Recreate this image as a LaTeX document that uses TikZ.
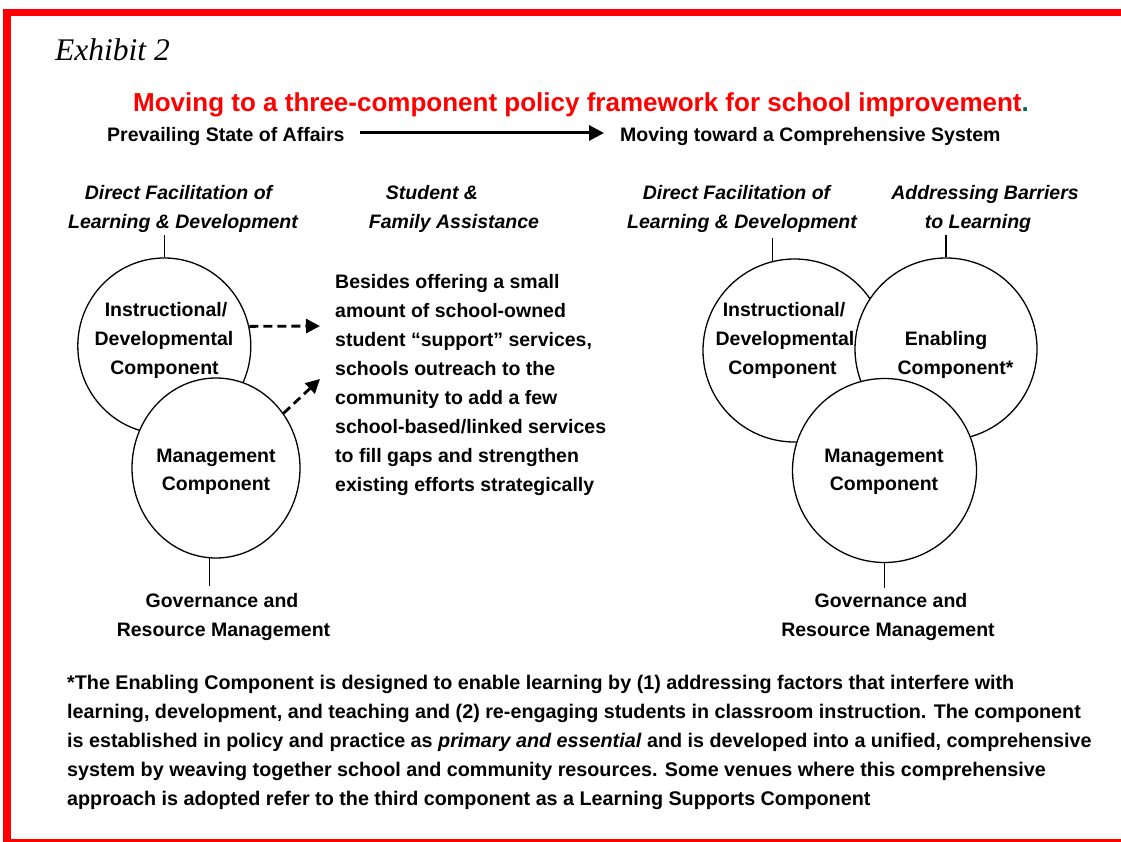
\documentclass[tikz,border=0pt]{standalone}
\usepackage{fontspec}
\setmainfont{Liberation Sans}
\newfontfamily\timesfont{Liberation Serif}
\usetikzlibrary{arrows.meta,shapes.geometric}
\definecolor{framered}{RGB}{255,0,0}
\definecolor{dotteal}{RGB}{0,102,102}
\begin{document}
\begin{tikzpicture}[x=1pt,y=-1pt,
  txt/.style={font=\fontsize{19.5}{29}\selectfont\bfseries, inner sep=0pt, anchor=base},
  txtl/.style={txt, anchor=base west},
  fnt/.style={font=\fontsize{19.75}{29}\selectfont\bfseries, inner sep=0pt, anchor=base west},
  hd/.style={font=\fontsize{19.5}{29}\selectfont\bfseries\itshape, inner sep=0pt, anchor=base},
  comp/.style={draw, line width=1.3pt, fill=white, ellipse, inner sep=0pt},
  tick/.style={line width=1.2pt},
  bigarrow/.style={line width=3pt, -{Triangle[length=15pt,width=15pt]}},
  dasharrow/.style={line width=2.8pt, dash pattern=on 9pt off 5pt, -{Triangle[length=14pt,width=14pt]}}
]
\useasboundingbox (0,0) rectangle (1121,842);
% frame
\draw[framered, line width=7.5pt] (7,12.5) rectangle (1135,843);

% heading texts
\node[font=\fontsize{31.5}{36}\selectfont\timesfont\itshape, inner sep=0pt, anchor=base west] (exhibit) at (55,61) {Exhibit 2};
\node[font=\fontsize{26}{30}\selectfont\bfseries, inner sep=0pt, anchor=base west, text=framered] (title) at (133,112) {Moving to a three-component policy framework for school improvement\textcolor{dotteal}{.}};
\node[txtl] (prev) at (107,142) {Prevailing State of Affairs};
\node[txtl] (move) at (620,142) {Moving toward a Comprehensive System};
\draw[bigarrow] ([xshift=15pt,yshift=4pt]prev.east) -- ([xshift=-16pt,yshift=4pt]move.west);

% left headings
\node[hd] (hdL1) at (178.5,200) {Direct Facilitation of};
\node[hd] (hdL2) at (183,229) {Learning \& Development};
\node[hd] (hdS1) at (432,200) {Student \&};
\node[hd] (hdS2) at (454,229) {Family Assistance};
% right headings
\node[hd] (hdR1) at (736.5,200) {Direct Facilitation of};
\node[hd] (hdR2) at (742,229) {Learning \& Development};
\node[hd] (hdB1) at (985,200) {Addressing Barriers};
\node[hd] (hdB2) at (978,229) {to Learning};

% left circles
\node[comp, minimum width=173pt, minimum height=176pt] (instL) at (164.3,346) {};
\node[comp, minimum width=168pt, minimum height=180pt] (mgmtL) at (216,468) {};
\node[txt] (instL1) at (166,316) {Instructional/};
\node[txt] (instL2) at (164,345) {Developmental};
\node[txt] (instL3) at (164.5,374) {Component};
\node[txt] (mgmtL1) at (216,462) {Management};
\node[txt] (mgmtL2) at (216,490) {Component};

% right circles
\node[comp, minimum size=183pt] (instR) at (794.5,350.5) {};
\node[comp, minimum size=182pt] (enab) at (946,349) {};
\node[comp, minimum size=184pt] (mgmtR) at (884.5,470.5) {};
\node[txt] (instR1) at (784,316) {Instructional/};
\node[txt] (instR2) at (785,345) {Developmental};
\node[txt] (instR3) at (782.5,374) {Component};
\node[txt] (enab1) at (946,345) {Enabling};
\node[txt] (enab2) at (955.5,374) {Component*};
\node[txt] (mgmtR1) at (884,462) {Management};
\node[txt] (mgmtR2) at (884,490) {Component};

% governance
\node[txt] (govL1) at (222,607) {Governance and};
\node[txt] (govL2) at (223.5,636) {Resource Management};
\node[txt] (govR1) at (891,607) {Governance and};
\node[txt] (govR2) at (888,636) {Resource Management};

% ticks
\draw[tick] (instL.north) -- ++(0,-22);
\draw[tick] (instR.104) -- ++(0,-23);
\draw[tick] (enab.north) -- ++(0,-22);
\draw[tick] (mgmtL.266) -- ++(0,28);
\draw[tick] (mgmtR.south) -- ++(0,25);

% assistance text
\node[txtl] (as1) at (335,288) {Besides offering a small};
\node[txtl] (as2) at (335,317) {amount of school-owned};
\node[txtl] (as3) at (335,346) {student \char"201C support\char"201D\ services,};
\node[txtl] (as4) at (335,375) {schools outreach to the};
\node[txtl] (as5) at (335,404) {community to add a few};
\node[txtl] (as6) at (335,433) {school-based/linked services};
\node[txtl] (as7) at (335,462) {to fill gaps and strengthen};
\node[txtl] (as8) at (335,491) {existing efforts strategically};

\coordinate (tgt1) at (320,326);
\coordinate (tgt2) at (320,379);
\draw[dasharrow] (instL.13) -- (tgt1);
\draw[dasharrow] (mgmtL.39) -- (tgt2);

% footnote
\node[fnt] (fn1) at (67,689) {*The Enabling Component is designed to enable learning by (1) addressing factors that interfere with};
\node[fnt] (fn2) at (67,718) {learning, development, and teaching and (2) re-engaging students in classroom instruction. The component};
\node[fnt] (fn3) at (67,747) {is established in policy and practice as \textit{primary and essential} and is developed into a unified, comprehensive};
\node[fnt] (fn4) at (67,776) {system by weaving together school and community resources. Some venues where this comprehensive};
\node[fnt] (fn5) at (67,805) {approach is adopted refer to the third component as a Learning Supports Component};
\end{tikzpicture}
\end{document}
